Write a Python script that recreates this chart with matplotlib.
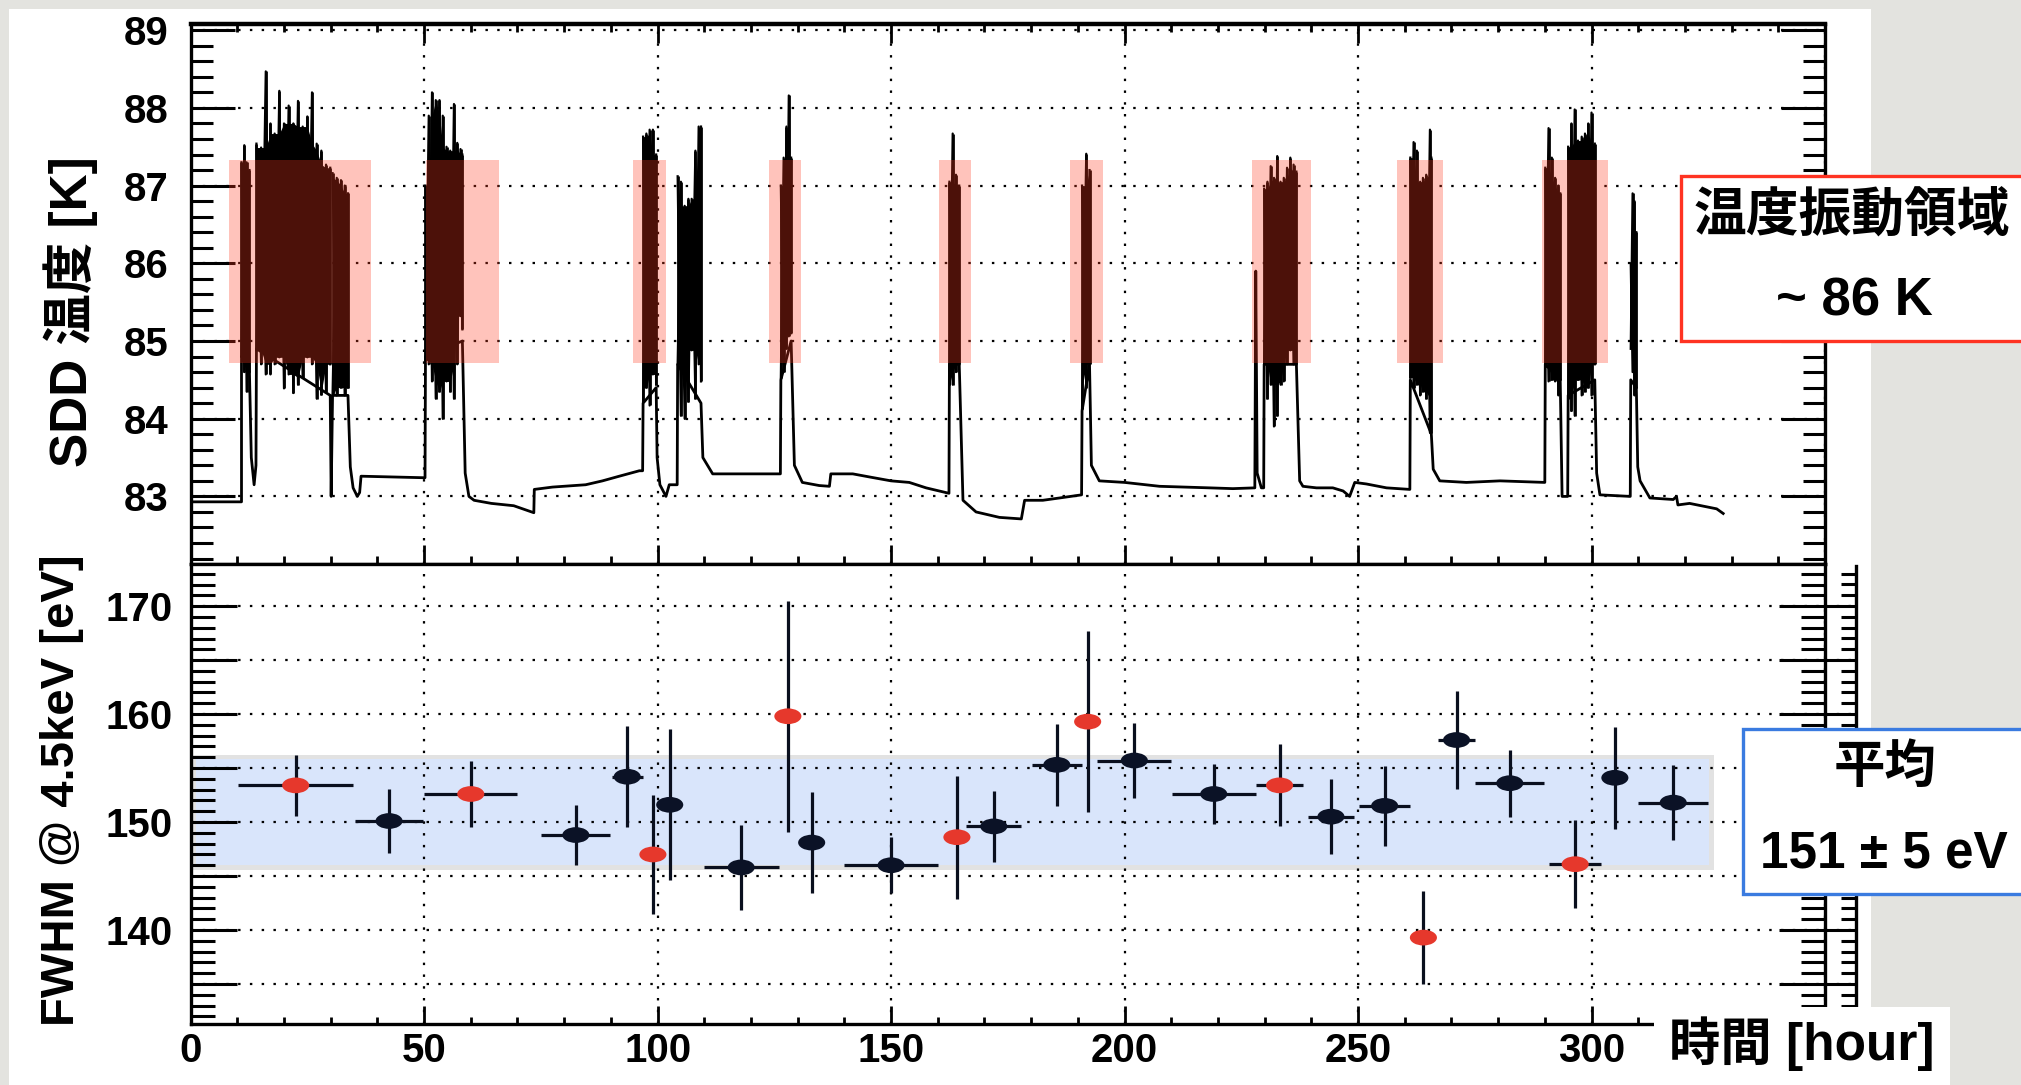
import numpy as np
import matplotlib.pyplot as plt
from matplotlib.patches import Rectangle
from matplotlib.path import Path
from matplotlib.transforms import Affine2D
from matplotlib.ticker import MultipleLocator, FuncFormatter

plt.rcParams['font.family'] = ['Liberation Sans', 'Noto Sans CJK JP']
plt.rcParams['font.weight'] = 'bold'

W, H = 2021, 1085

# ---------------- SDD temperature (upper panel) ----------------
trace_h = [0, 10.9, 10.9, 12.6, 13.0, 13.6, 14.0, 14.1, 29.9, 30.1, 30.4, 33.7,
           34.2, 34.8, 35.7, 36.2, 36.5, 50.2, 50.3, 58.2, 58.8, 59.6, 60.7, 64.4,
           69.2, 73.5, 73.6, 77.5, 84.6, 88.2, 91.8, 96.1, 96.8, 96.9, 99.7, 99.9, 100.5, 101.8,
           102.5, 104.2, 104.3, 109.3, 109.7, 111.8, 123.2, 126.3, 126.4, 128.6, 129.3, 131.0,
           134.6, 136.8, 137.1, 141.8, 145.4, 150.0, 153.9, 157.5, 162.4, 162.5, 164.6, 165.4,
           168.2, 173.2, 177.9, 178.6, 182.5, 186.1, 190.8, 190.9, 192.5, 192.9, 194.6, 200.0,
           207.5, 218.2, 223.2, 227.9, 228.1, 228.4, 229.3, 229.8, 229.9, 236.8, 237.5, 238.2, 241.1,
           244.6, 246.8, 248.2, 249.3, 251.8, 256.1, 261.1, 261.2, 265.7, 266.1, 267.5, 273.2,
           280.4, 290.0, 290.1, 293.3, 293.7, 294.9, 295.0, 300.7, 301.1, 301.8, 308.3, 308.4,
           309.6, 309.9, 310.4, 312.5, 317.5, 318.2, 318.5, 321.0, 326.8, 328.2]
trace_T = [82.93, 82.93, 84.8, 84.6, 83.5, 83.15, 83.4, 84.9, 84.3, 83.0, 84.3, 84.3,
           83.38, 83.11, 83.0, 83.05, 83.26, 83.24, 84.8, 85.0, 83.3, 83.0, 82.95, 82.91,
           82.88, 82.79, 83.09, 83.12, 83.15, 83.2, 83.26, 83.33, 83.33, 84.2, 84.4, 83.5, 83.15, 83.0,
           83.15, 83.15, 84.7, 84.2, 83.5, 83.29, 83.29, 83.29, 84.5, 85.0, 83.4, 83.18,
           83.14, 83.13, 83.29, 83.29, 83.25, 83.2, 83.18, 83.11, 83.04, 84.7, 84.7, 82.95,
           82.8, 82.73, 82.71, 82.95, 82.95, 82.98, 83.02, 84.1, 84.7, 83.4, 83.2, 83.18,
           83.13, 83.11, 83.1, 83.11, 85.9, 83.3, 83.11, 83.11, 84.7, 84.7, 83.2, 83.13, 83.11,
           83.11, 83.07, 83.0, 83.18, 83.16, 83.11, 83.09, 84.5, 83.8, 83.35, 83.2, 83.18,
           83.2, 83.18, 84.7, 84.5, 83.0, 83.0, 84.3, 84.5, 83.3, 83.02, 83.0, 84.5,
           84.4, 83.38, 83.2, 82.98, 82.96, 83.0, 82.89, 82.91, 82.84, 82.78]

# oscillation bursts: sample times, peak tops and bottoms
burst_t = [[10.9, 11.5, 12.0, 12.6],
           [14.1, 15.1, 16.1, 17.1, 18.0, 19.0, 20.0, 21.0, 22.0, 23.0, 24.0, 25.0, 26.0, 27.0, 28.0, 29.0, 29.9],
           [30.4, 31.3, 32.2, 33.0, 33.7],
           [50.3, 51.0, 51.7, 52.5, 53.3, 54.0, 54.8, 55.6, 56.4, 57.1, 57.8, 58.2],
           [96.9, 97.6, 98.3, 99.0, 99.7],
           [104.3, 105.0, 105.8, 106.6, 107.3, 108.1, 108.8, 109.3],
           [126.4, 127.0, 127.6, 128.1, 128.6],
           [162.5, 163.2, 163.9, 164.6],
           [190.9, 191.8, 192.5],
           [229.9, 230.6, 231.3, 232.0, 232.7, 233.4, 234.1, 234.8, 235.5, 236.2, 236.8],
           [261.2, 261.9, 262.6, 263.3, 263.9, 264.6, 265.4, 265.7],
           [290.1, 290.8, 291.5, 292.2, 292.9, 293.3],
           [295.0, 295.7, 296.4, 297.1, 297.9, 298.6, 299.3, 300.0, 300.7],
           [308.4, 308.8, 309.2, 309.6]]
burst_hi = [[87.3, 87.52, 87.3, 87.2],
            [87.54, 87.49, 88.47, 87.8, 87.67, 88.22, 87.8, 88.03, 87.8, 88.09, 87.76, 87.89, 88.2, 87.54, 87.45, 87.27, 87.23],
            [87.16, 87.1, 87.07, 87.0, 86.9],
            [87.0, 87.9, 88.2, 88.1, 88.1, 87.9, 87.5, 87.45, 88.05, 87.55, 87.47, 87.4],
            [87.63, 87.67, 87.72, 87.72, 87.4],
            [87.12, 87.05, 86.74, 86.83, 86.83, 87.45, 87.76, 87.76],
            [87.0, 87.36, 87.76, 88.16, 87.36],
            [87.05, 87.67, 87.14, 87.0],
            [87.0, 87.41, 87.2],
            [86.96, 87.05, 87.25, 87.1, 87.38, 87.05, 87.1, 87.23, 87.36, 87.27, 87.18],
            [87.36, 87.56, 87.45, 87.05, 87.1, 87.14, 87.72, 87.36],
            [87.23, 87.74, 87.36, 87.1, 87.0, 86.9],
            [87.5, 87.8, 87.98, 87.58, 87.63, 87.67, 87.8, 87.94, 87.54],
            [86.0, 86.9, 86.8, 86.4]]
burst_lo = [[84.8, 84.6, 84.35, 84.6],
            [84.88, 84.7, 84.57, 84.57, 84.7, 84.79, 84.39, 84.57, 84.33, 84.44, 84.53, 84.79, 84.7, 84.26, 84.31, 84.35, 84.7],
            [84.3, 84.3, 84.4, 84.3, 84.4],
            [84.75, 84.7, 84.48, 84.26, 84.35, 84.0, 84.48, 84.35, 84.26, 84.7, 85.32, 85.15],
            [84.22, 84.4, 84.17, 84.57, 84.44],
            [84.7, 84.04, 84.0, 84.22, 84.88, 84.26, 84.7, 84.48],
            [84.53, 84.6, 84.9, 85.06, 85.1],
            [84.44, 84.44, 84.6, 84.7],
            [84.13, 84.4, 84.7],
            [84.7, 84.26, 84.44, 83.9, 84.04, 84.44, 84.48, 84.7, 84.88, 84.7, 84.7],
            [84.53, 84.4, 84.44, 84.3, 84.35, 84.26, 83.82, 83.82],
            [84.7, 84.48, 84.5, 84.48, 84.3, 84.5],
            [84.26, 84.1, 84.04, 84.5, 84.3, 84.35, 84.4, 84.3, 84.7],
            [84.9, 84.6, 84.3, 84.4]]

# shaded temperature-oscillation regions
osc_start = [8.3, 50.5, 94.8, 123.8, 160.2, 188.3, 227.3, 258.4, 289.3]
osc_end = [38.7, 66.1, 101.8, 130.8, 167.2, 195.4, 239.9, 268.1, 303.5]
osc_Tlo, osc_Thi = 84.72, 87.33

# ---------------- FWHM @ 4.5 keV (lower panel) ----------------
fwhm_t = [22.5, 42.5, 60.0, 82.5, 93.5, 99.0, 102.6, 117.9, 127.9, 133.0, 150.0, 164.1, 172.0,
          185.5, 192.1, 202.1, 219.1, 233.2, 244.2, 255.7, 264.0, 271.1, 282.5, 296.5, 305.0, 317.5]
fwhm_terr = [12.3, 7.3, 10.0, 7.4, 3.3, 0, 0, 8.0, 0, 0, 10.0, 0, 5.9,
             5.3, 0, 7.9, 9.0, 5.0, 5.0, 5.5, 0, 3.9, 7.4, 5.5, 0, 7.5]
fwhm = [153.4, 150.1, 152.6, 148.8, 154.2, 147.0, 151.6, 145.8, 159.8, 148.1, 146.0, 148.6, 149.6,
        155.3, 159.3, 155.7, 152.6, 153.4, 150.5, 151.5, 139.3, 157.6, 153.6, 146.1, 154.1, 151.8]
fwhm_err = [2.8, 3.0, 3.1, 2.8, 4.7, 5.5, 7.0, 3.9, 10.7, 4.7, 2.6, 5.7, 3.3,
            3.8, 8.4, 3.5, 2.8, 3.8, 3.5, 3.7, 4.3, 4.5, 3.1, 4.1, 4.7, 3.5]
in_osc = [1, 0, 1, 0, 0, 1, 0, 0, 1, 0, 0, 1, 0,
          0, 1, 0, 0, 1, 0, 0, 1, 0, 0, 1, 0, 0]
band_lo, band_hi = 146.0, 155.8
band_end = 325.2


def fig_box(x0, y0, x1, y1):
    # pixel box (top-left origin) -> figure fraction rect
    return (x0 / W, 1 - y1 / H), (x1 - x0) / W, (y1 - y0) / H


fig = plt.figure(figsize=(W / 100, H / 100), dpi=100, facecolor='#e3e3df')
xy, w, h = fig_box(9, 9, 1871, 1090)
fig.add_artist(Rectangle(xy, w, h, transform=fig.transFigure, facecolor='white',
                         edgecolor='none', zorder=-10))

grid_kw = dict(color='black', linestyle=(0, (1.1, 4.2)), linewidth=1.6)

# ---- upper panel ----
ax1 = fig.add_axes([190.6 / W, 1 - 564 / H, (1825 - 190.6) / W, (564 - 24) / H])
ax1.set_xlim(0, 350)
ax1.set_ylim(82.13, 89.08)
ax1.xaxis.set_major_locator(MultipleLocator(50))
ax1.xaxis.set_minor_locator(MultipleLocator(10))
ax1.yaxis.set_major_locator(MultipleLocator(1))
ax1.yaxis.set_minor_locator(MultipleLocator(0.2))
ax1.tick_params(which='both', direction='in', top=True, right=True, labelbottom=False)
ax1.tick_params(axis='y', which='major', length=32, width=2.2, labelsize=29, pad=16)
ax1.tick_params(axis='y', which='minor', length=16, width=2.2)
ax1.tick_params(axis='x', which='major', length=14, width=2.0)
ax1.tick_params(axis='x', which='minor', length=6, width=2.0)
ax1.grid(True, which='major', **grid_kw)
for sp in ax1.spines.values():
    sp.set_linewidth(2.4)
ax1.spines['top'].set_linewidth(3.2)

ax1.plot(trace_h, trace_T, color='black', lw=2.0, zorder=3)
for t, hi, lo in zip(burst_t, burst_hi, burst_lo):
    t, hi, lo = np.asarray(t), np.asarray(hi), np.asarray(lo)
    # dense core: where neighbouring swings overlap
    core_hi = np.minimum.reduce([hi, np.r_[hi[0], hi[:-1]], np.r_[hi[1:], hi[-1]]])
    core_lo = np.maximum.reduce([lo, np.r_[lo[0], lo[:-1]], np.r_[lo[1:], lo[-1]]])
    ax1.fill_between(t, core_lo, core_hi, color='black', lw=0, zorder=3)
    # swings between read peak tops and bottoms
    even = np.arange(len(t)) % 2 == 0
    ax1.plot(t, np.where(even, hi, lo), color='black', lw=1.6, zorder=3)
    ax1.plot(t, np.where(even, lo, hi), color='black', lw=1.6, zorder=3)
    ax1.vlines(t, lo, hi, color='black', lw=2.0, zorder=3)
for s, e in zip(osc_start, osc_end):
    ax1.add_patch(Rectangle((s, osc_Tlo), e - s, osc_Thi - osc_Tlo, facecolor='#ff3a1e',
                            alpha=0.3, edgecolor='none', zorder=4))

# ---- lower panel ----
ax2 = fig.add_axes([190.6 / W, 1 - 1024 / H, (1825 - 190.6) / W, (1024 - 564) / H])
ax2.set_xlim(0, 350)
ax2.set_ylim(131.3, 173.9)
ax2.xaxis.set_major_locator(MultipleLocator(50))
ax2.xaxis.set_minor_locator(MultipleLocator(10))
ax2.yaxis.set_major_locator(MultipleLocator(5))
ax2.yaxis.set_minor_locator(MultipleLocator(1))
ax2.yaxis.set_major_formatter(FuncFormatter(lambda v, p: f'{v:.0f}' if round(v) % 10 == 0 else ''))
ax2.xaxis.set_major_formatter(FuncFormatter(lambda v, p: f'{v:.0f}' if v <= 300 else ''))
ax2.tick_params(which='both', direction='in', right=True, top=False)
ax2.tick_params(axis='y', which='major', length=33, width=2.2, labelsize=29, pad=13)
ax2.tick_params(axis='y', which='minor', length=17, width=2.2)
ax2.tick_params(axis='x', which='major', length=13, width=2.0, labelsize=29, pad=6)
ax2.tick_params(axis='x', which='minor', length=5, width=2.0)
ax2.grid(True, which='major', **grid_kw)
for sp in ax2.spines.values():
    sp.set_linewidth(2.4)

ax2.fill_between([0.5, band_end + 1.1], band_lo - 0.4, band_hi + 0.4, color='#e2e2e2', lw=0, zorder=1)
ax2.fill_between([1.2, band_end], band_lo, band_hi, color='#d9e5fb', lw=0, zorder=1.1)

ax2.errorbar(fwhm_t, fwhm, xerr=fwhm_terr, yerr=fwhm_err, fmt='none', ecolor='#0a0f1e',
             elinewidth=2.3, capsize=0, zorder=3)
ellipse = Path.unit_circle().transformed(Affine2D().scale(1.0, 0.58))
pt_colors = ['#e6382c' if r else '#0b1226' for r in in_osc]
ax2.scatter(fwhm_t, fwhm, s=19.5 ** 2, marker=ellipse, c=pt_colors, linewidths=0, zorder=4)

# extra right-hand axis strip of the lower plot
ax_r = fig.add_axes([1825 / W, 1 - 1024 / H, (1856 - 1825) / W, (1024 - 566) / H])
ax_r.set_ylim(131.3, 173.9 - 0.2)
ax_r.set_xlim(0, 1)
ax_r.patch.set_visible(False)
for k in ['left', 'top', 'bottom']:
    ax_r.spines[k].set_visible(False)
ax_r.spines['right'].set_linewidth(2.4)
ax_r.yaxis.set_major_locator(MultipleLocator(5))
ax_r.yaxis.set_minor_locator(MultipleLocator(1))
ax_r.tick_params(axis='y', which='both', direction='in', left=False, right=True,
                 labelleft=False, labelright=False)
ax_r.tick_params(axis='y', which='major', length=22, width=2.2)
ax_r.tick_params(axis='y', which='minor', length=11, width=2.2)
ax_r.set_xticks([])
ax_r.grid(True, axis='y', which='major', **grid_kw)

# axis titles
fig.text(71 / W, 1 - 312 / H, 'SDD 温度 [K]', rotation=90, ha='center', va='center',
         fontsize=37, fontweight='bold')
fig.text(62 / W, 1 - 790 / H, 'FWHM @ 4.5keV [eV]', rotation=90, ha='center', va='center',
         fontsize=34, fontweight='bold')

# annotation boxes
xy, w, h = fig_box(1681, 176, 2040, 341)
fig.add_artist(Rectangle(xy, w, h, transform=fig.transFigure, facecolor='white',
                         edgecolor='#ff3322', lw=2.4, zorder=5))
fig.text(1852 / W, 1 - 217 / H, '温度振動領域', ha='center', va='center', fontsize=38,
         fontweight='bold', zorder=6)
fig.text(1854 / W, 1 - 302 / H, '~ 86 K', ha='center', va='center', fontsize=38,
         fontweight='bold', zorder=6)

xy, w, h = fig_box(1743, 729, 2040, 894)
fig.add_artist(Rectangle(xy, w, h, transform=fig.transFigure, facecolor='white',
                         edgecolor='#3a7be0', lw=2.4, zorder=5))
fig.text(1885 / W, 1 - 768 / H, '平均', ha='center', va='center', fontsize=37,
         fontweight='bold', zorder=6)
fig.text(1884 / W, 1 - 854 / H, '151 ± 5 eV', ha='center', va='center', fontsize=37,
         fontweight='bold', zorder=6)

xy, w, h = fig_box(1654, 1007, 1950, 1090)
fig.add_artist(Rectangle(xy, w, h, transform=fig.transFigure, facecolor='white',
                         edgecolor='none', zorder=5))
fig.text(1802 / W, 1 - 1044 / H, '時間 [hour]', ha='center', va='center', fontsize=37,
         fontweight='bold', zorder=6)

fig.savefig('out.png', dpi=100, facecolor=fig.get_facecolor())
